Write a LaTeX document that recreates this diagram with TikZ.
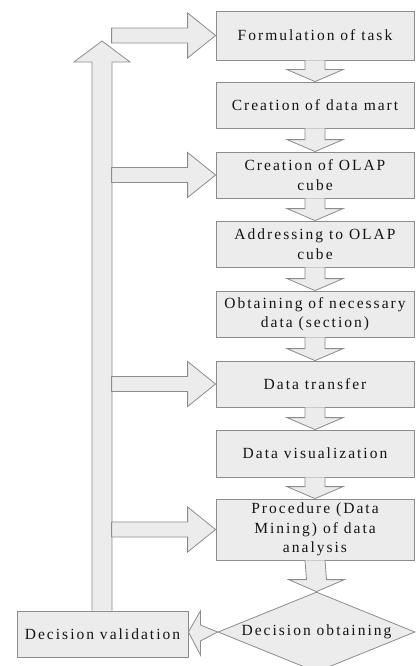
\documentclass[tikz,border=0pt]{standalone}
\usepackage{fontspec}
\setmainfont{Liberation Serif}[LetterSpace=13]
\usetikzlibrary{calc,shapes.geometric}
\definecolor{boxfill}{HTML}{ECECEC}
\definecolor{boxline}{HTML}{8C8C8C}
\definecolor{txt}{HTML}{141414}
\tikzset{
  stepbox/.style={draw=boxline, fill=boxfill, line width=0.8pt, minimum width=198pt,
    inner sep=0pt, align=center, text=txt, font=\fontsize{15.5}{19.5}\selectfont},
  decbox/.style={draw=boxline, fill=boxfill, line width=0.8pt, shape=diamond, aspect=2.46,
    inner sep=0pt, minimum width=197pt, minimum height=80pt, text=txt, font=\fontsize{15.5}{19.5}\selectfont},
  fatarrow/.style={draw=boxline, fill=boxfill, line width=0.8pt, line join=miter},
}
\newcommand{\downarr}[2]{%
  \draw[fatarrow] ($(#1.south)+(-10,0)$) -- ($(#2.north)+(-10,-12)$) -- ($(#2.north)+(-28,-12)$)
    -- (#2.north) -- ($(#2.north)+(28,-12)$) -- ($(#2.north)+(10,-12)$) -- ($(#1.south)+(10,0)$);}
\newcommand{\rightarr}[1]{%
  \draw[fatarrow] ($(#1.west)+(-104,-7.5)$) -- ($(#1.west)+(-28,-7.5)$) -- ($(#1.west)+(-28,-22.5)$)
    -- (#1.west) -- ($(#1.west)+(-28,22.5)$) -- ($(#1.west)+(-28,7.5)$) -- ($(#1.west)+(-104,7.5)$) -- cycle;}
\begin{document}
\begin{tikzpicture}[x=1pt,y=-1pt]
\useasboundingbox (0,0) rectangle (415,666);
\node[stepbox, minimum height=49pt] (f1) at (315,35.5) {Formulation of task};
\node[stepbox, minimum height=46pt] (f2) at (315,105) {Creation of data mart};
\node[stepbox, minimum height=46pt] (f3) at (315,175) {Creation of OLAP\\cube};
\node[stepbox, minimum height=46pt] (f4) at (315,244) {Addressing to OLAP\\cube};
\node[stepbox, minimum height=46pt] (f5) at (315,314) {Obtaining of necessary\\data (section)};
\node[stepbox, minimum height=46pt] (f6) at (315,384) {Data transfer};
\node[stepbox, minimum height=47pt] (f7) at (315,453.5) {Data visualization};
\node[stepbox, minimum height=61pt] (f8) at (315,529.5) {Procedure (Data\\Mining) of data\\analysis};
\node[decbox] (dec) at (316.5,632) {Decision obtaining};
\node[stepbox, minimum width=171pt, minimum height=46pt] (dv) at (102.5,634) {Decision validation};
\downarr{f1}{f2}
\downarr{f2}{f3}
\downarr{f3}{f4}
\downarr{f4}{f5}
\downarr{f5}{f6}
\downarr{f6}{f7}
\downarr{f7}{f8}
\downarr{f8}{dec}
% feedback arrow up
\coordinate (vt) at (102,41);
\draw[fatarrow] ($(dv.north)+(-10.5,0)$) -- ($(vt)+(-10,21)$) -- ($(vt)+(-28,21)$) -- (vt)
  -- ($(vt)+(28,21)$) -- ($(vt)+(10,21)$) -- ($(dv.north)+(9.5,0)$);
\rightarr{f1}
\rightarr{f3}
\rightarr{f6}
\rightarr{f8}
% arrow from decision to validation
\draw[fatarrow] (dec.west) -- ($(dv.east)+(12,-9)$) -- ($(dv.east)+(12,-23)$) -- ($(dv.east)+(0,-2)$)
  -- ($(dv.east)+(12,21)$) -- ($(dv.east)+(12,7)$) -- cycle;
\end{tikzpicture}
\end{document}
